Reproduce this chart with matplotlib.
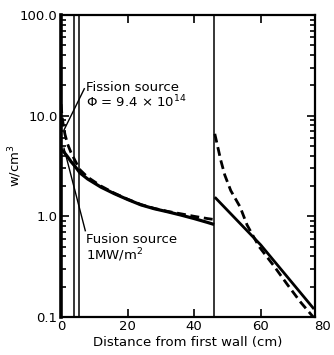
import matplotlib
matplotlib.use("Agg")
import matplotlib.pyplot as plt
from matplotlib.ticker import FixedLocator, FixedFormatter, LogLocator, NullFormatter

plt.rcParams['font.family'] = ['DejaVu Sans']
plt.rcParams['mathtext.fontset'] = 'dejavusans'

# Fusion source (solid) - inner region and outer region
fus_in_x = [0, 0.5, 1, 2, 3, 4, 5, 5.7, 8, 12, 16, 20, 24, 28, 32, 36, 40, 44, 46]
fus_in_y = [4.6, 4.5, 4.3, 3.9, 3.5, 3.2, 2.9, 2.7, 2.35, 1.95, 1.68, 1.47, 1.3, 1.19, 1.11, 1.03, 0.95, 0.87, 0.83]
fus_out_x = [46.2, 60, 76]
fus_out_y = [1.55, 0.52, 0.12]

# Fission source (dashed)
fis_in_x = [0, 0.3, 0.7, 1.2, 2, 3, 4, 5, 5.7, 8, 12, 16, 20, 24, 28, 32, 36, 40, 44, 46]
fis_in_y = [13, 10, 8, 6.5, 5.2, 4.3, 3.7, 3.2, 2.9, 2.45, 2.0, 1.7, 1.48, 1.31, 1.2, 1.12, 1.06, 1.0, 0.95, 0.93]
fis_out_x = [46.2, 48, 49.2, 51, 53.8, 55.9, 59.5, 64, 68, 72, 76]
fis_out_y = [6.6, 3.6, 2.57, 1.8, 1.24, 0.82, 0.5, 0.32, 0.21, 0.14, 0.098]

# Zone boundaries (cm)
boundaries = [3.8, 5.5, 46.0]

xticks = [0, 20, 40, 60]
xtick_labels = ['0', '20', '40', '60']
last_xlabel = '80'
yticks = [0.1, 1, 10, 100]
ytick_labels = ['0.1', '1.0', '10.0', '100.0']

fig = plt.figure(figsize=(3.34, 3.55), dpi=100)
ax = fig.add_axes([61/334, 1-317/355, (315-61)/334, (317-15)/355])

fs = 9.5
for b in boundaries:
    ax.axvline(b, color='black', lw=1.1)

ax.plot(fus_in_x, fus_in_y, color='black', lw=2.3, solid_capstyle='butt')
ax.plot(fus_out_x, fus_out_y, color='black', lw=2.0, solid_capstyle='butt')
ax.plot(fis_in_x, fis_in_y, color='black', lw=2.0, ls=(0, (3.2, 1.7)))
ax.plot(fis_out_x, fis_out_y, color='black', lw=2.0, ls=(0, (3.2, 1.7)))

ax.set_yscale('log')
ax.set_xlim(0, 76.3)
ax.set_ylim(0.1, 100)

ax.xaxis.set_major_locator(FixedLocator(xticks))
ax.xaxis.set_major_formatter(FixedFormatter(xtick_labels))
ax.yaxis.set_major_locator(FixedLocator(yticks))
ax.yaxis.set_major_formatter(FixedFormatter(ytick_labels))
ax.yaxis.set_minor_locator(LogLocator(base=10, subs=range(2, 10)))
ax.yaxis.set_minor_formatter(NullFormatter())

ax.tick_params(which='both', direction='in', top=True, right=True, width=1.2,
               labelsize=fs, pad=2.5)
ax.tick_params(which='major', length=6)
ax.tick_params(which='minor', length=3.5)
for s in ax.spines.values():
    s.set_linewidth(1.6)
ax.spines['left'].set_linewidth(2.6)

# "80" label sits just beyond the right frame in the original
ax.annotate(last_xlabel, xy=(78.6, 0), xycoords=('data', 'axes fraction'),
            xytext=(0, -2.5), textcoords='offset points',
            ha='center', va='top', fontsize=fs, annotation_clip=False)

ax.set_xlabel('Distance from first wall (cm)', fontsize=fs, labelpad=1.5)
ax.set_ylabel('w/cm$^3$', fontsize=fs, labelpad=-3)

# Labels and pointers
ax.text(7.6, 12.1, 'Fission source\nΦ = 9.4 × 10$^{14}$', fontsize=fs,
        ha='left', va='baseline', linespacing=1.0)
ax.plot([7.0, 0.9], [18.5, 7.2], color='black', lw=1.0)

ax.text(7.6, 0.37, 'Fusion source\n1MW/m$^2$', fontsize=fs,
        ha='left', va='baseline', linespacing=1.0)
ax.plot([7.3, 0.9], [0.72, 4.75], color='black', lw=1.0)

fig.savefig('out.png', dpi=100)
